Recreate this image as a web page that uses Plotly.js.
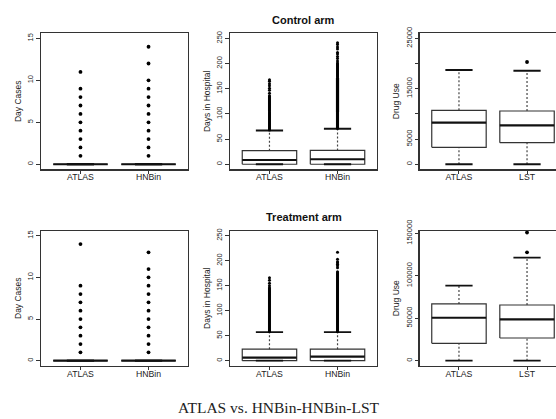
<!DOCTYPE html>
<html><head><meta charset="utf-8">
<script src="https://cdn.plot.ly/plotly-3.0.1.min.js"></script>
<style>html,body{margin:0;padding:0;overflow:hidden;background:#fff;width:556px;height:419px}#chart{width:600px;height:419px}</style>
</head><body><div id="chart"></div>
<script>
// ---------- DATA ----------
const hnbinGroups = ["ATLAS", "HNBin"];
const drugGroups = ["ATLAS", "LST"];

const rowTitles = ["Control arm", "Treatment arm"];
const yTitles = ["Day Cases", "Days in Hospital", "Drug Use"];
const caption = "ATLAS vs. HNBin-HNBin-LST";

// box stats per group: [lower whisker, Q1, median, Q3, upper whisker]
const ctrlDayStats = [[0, 0, 0, 0, 0], [0, 0, 0, 0, 0]];
const ctrlDayOut = [[1, 2, 3, 4, 5, 6, 7, 8, 9, 11], [1, 2, 3, 4, 5, 6, 7, 8, 9, 10, 12, 14]];

const ctrlHospStats = [[0, 0, 8.5, 27, 67], [0, 0, 10, 27.5, 70.5]];
const ctrlHospOut = [
  [68, 70, 72, 74, 76, 78, 80, 82, 84, 86, 88, 90, 92, 94, 96, 98, 100, 102, 104, 106, 108, 110, 112, 114, 116, 118, 120, 122, 124, 126, 128, 130, 132, 134, 136, 141, 147, 151, 156, 160, 165, 168],
  [71, 73, 75, 77, 79, 81, 83, 85, 87, 89, 91, 93, 95, 97, 99, 101, 103, 105, 107, 109, 111, 113, 115, 117, 119, 121, 123, 125, 127, 129, 131, 133, 135, 137, 139, 141, 143, 145, 147, 149, 151, 153, 155, 157, 159, 161, 163, 165, 167, 169, 171, 173, 175, 177, 179, 181, 183, 185, 187, 189, 191, 193, 195, 197, 199, 201, 205, 210, 214, 219, 222, 229, 233, 238, 241]
];

const ctrlDrugStats = [[0, 3370, 8250, 10710, 18710], [0, 4290, 7740, 10570, 18570]];
const ctrlDrugOut = [[], [20300]];

const trtDayStats = [[0, 0, 0, 0, 0], [0, 0, 0, 0, 0]];
const trtDayOut = [[1, 2, 3, 4, 5, 6, 7, 8, 9, 14], [1, 2, 3, 4, 5, 6, 7, 8, 9, 10, 11, 13]];

const trtHospStats = [[0, 0, 6, 23, 57], [0, 0, 8, 23, 57]];
const trtHospOut = [
  [58, 60, 62, 64, 66, 68, 70, 72, 74, 76, 78, 80, 82, 84, 86, 88, 90, 92, 94, 96, 98, 100, 102, 104, 106, 108, 110, 112, 114, 116, 118, 120, 122, 124, 126, 128, 130, 132, 134, 136, 138, 140, 142, 144, 146, 150, 155, 161, 166],
  [58, 60, 62, 64, 66, 68, 70, 72, 74, 76, 78, 80, 82, 84, 86, 88, 90, 92, 94, 96, 98, 100, 102, 104, 106, 108, 110, 112, 114, 116, 118, 120, 122, 124, 126, 128, 130, 132, 134, 136, 138, 140, 142, 144, 146, 148, 150, 152, 154, 156, 158, 160, 162, 164, 166, 168, 170, 172, 174, 176, 178, 186, 190, 193, 196, 198, 203, 217]
];

const trtDrugStats = [[0, 20500, 50600, 66800, 88300], [0, 26700, 48700, 65600, 121300]];
const trtDrugOut = [[], [127600, 151000]];

const dayTicks = [0, 5, 10, 15];
const dayTickText = ["0", "5", "10", "15"];
const hospTicks = [0, 50, 100, 150, 200, 250];
const hospTickText = ["0", "50", "100", "150", "200", "250"];
const ctrlDrugTicks = [0, 5000, 10000, 15000, 20000, 25000];
const ctrlDrugTickText = ["0", "5000", "", "15000", "", "25000"];
const trtDrugTicks = [0, 50000, 100000, 150000];
const trtDrugTickText = ["0", "50000", "100000", "150000"];

// ---------- DRAWING ----------
const W = 600, H = 419;
const INK = '#333';
const FONT = 'Liberation Sans, Arial, Helvetica, sans-serif';
const BW = 0.4, SW = 0.2;

function boxTraces(stats, outs, xa, ya, msize) {
  const wx = [], wy = [], bx = [], by = [], mx = [], my = [], sx = [], sy = [], ox = [], oy = [];
  stats.forEach((s, i) => {
    const p = i + 1;
    const [lo, q1, med, q3, hi] = s;
    wx.push(p, p, null, p, p, null); wy.push(lo, q1, null, q3, hi, null);
    bx.push(p - BW, p + BW, p + BW, p - BW, p - BW, null); by.push(q1, q1, q3, q3, q1, null);
    mx.push(p - BW, p + BW, null); my.push(med, med, null);
    sx.push(p - SW, p + SW, null, p - SW, p + SW, null); sy.push(lo, lo, null, hi, hi, null);
    outs[i].forEach(v => { ox.push(p); oy.push(v); });
  });
  const base = {type: 'scatter', xaxis: xa, yaxis: ya, showlegend: false, hoverinfo: 'skip'};
  return [
    Object.assign({}, base, {x: wx, y: wy, mode: 'lines', line: {color: '#444', width: 1.2, dash: '2px,2px'}}),
    Object.assign({}, base, {x: bx, y: by, mode: 'lines', line: {color: INK, width: 1.2}}),
    Object.assign({}, base, {x: sx, y: sy, mode: 'lines', line: {color: '#111', width: 1.8}}),
    Object.assign({}, base, {x: mx, y: my, mode: 'lines', line: {color: '#111', width: 2.2}}),
    Object.assign({}, base, {x: ox, y: oy, mode: 'markers', marker: {color: '#000', size: msize, line: {width: 0}}})
  ];
}

const panels = [
  {stats: ctrlDayStats, outs: ctrlDayOut, groups: hnbinGroups, ticks: dayTicks, tt: dayTickText, range: [-0.6, 15.6], title: yTitles[0], col: 0, row: 0, ms: 3.8},
  {stats: ctrlHospStats, outs: ctrlHospOut, groups: hnbinGroups, ticks: hospTicks, tt: hospTickText, range: [-10, 260], title: yTitles[1], col: 1, row: 0, ms: 3},
  {stats: ctrlDrugStats, outs: ctrlDrugOut, groups: drugGroups, ticks: ctrlDrugTicks, tt: ctrlDrugTickText, range: [-1000, 26000], title: yTitles[2], col: 2, row: 0, ms: 3.8},
  {stats: trtDayStats, outs: trtDayOut, groups: hnbinGroups, ticks: dayTicks, tt: dayTickText, range: [-0.6, 15.6], title: yTitles[0], col: 0, row: 1, ms: 3.8},
  {stats: trtHospStats, outs: trtHospOut, groups: hnbinGroups, ticks: hospTicks, tt: hospTickText, range: [-10, 260], title: yTitles[1], col: 1, row: 1, ms: 3},
  {stats: trtDrugStats, outs: trtDrugOut, groups: drugGroups, ticks: trtDrugTicks, tt: trtDrugTickText, range: [-5900, 153100], title: yTitles[2], col: 2, row: 1, ms: 3.8}
];

const colPx = [[41, 188], [230, 377], [419.5, 566.5]];
const rowPx = [[33.3, 169.3], [230.7, 365.7]];

const data = [];
const layout = {
  width: W, height: H,
  margin: {l: 0, r: 0, t: 0, b: 0},
  paper_bgcolor: '#fff', plot_bgcolor: '#fff',
  showlegend: false, hovermode: false,
  font: {family: FONT, size: 9, color: INK},
  annotations: []
};

panels.forEach((pn, k) => {
  const n = k + 1;
  const xa = 'x' + (n === 1 ? '' : n), ya = 'y' + (n === 1 ? '' : n);
  data.push(...boxTraces(pn.stats, pn.outs, xa, ya, pn.ms));
  const cx = colPx[pn.col], ry = rowPx[pn.row];
  const common = {
    showline: true, mirror: true, linecolor: INK, linewidth: 1.2,
    ticks: 'outside', ticklen: 3.5, tickwidth: 1, tickcolor: INK,
    showgrid: false, zeroline: false, fixedrange: true
  };
  layout['xaxis' + (n === 1 ? '' : n)] = Object.assign({}, common, {
    domain: [cx[0] / W, cx[1] / W], range: [0.42, 2.58],
    tickmode: 'array', tickvals: [1, 2], ticktext: pn.groups,
    tickfont: {family: FONT, size: 8.7, color: '#222'},
    ticklabelstandoff: -4,
    anchor: ya
  });
  layout['yaxis' + (n === 1 ? '' : n)] = Object.assign({}, common, {
    domain: [1 - ry[1] / H, 1 - ry[0] / H], range: pn.range,
    tickmode: 'array', tickvals: pn.ticks, ticktext: pn.tt, tickangle: -90,
    tickfont: {family: FONT, size: 7.5, color: '#222'},
    anchor: xa,
    title: {text: pn.title, font: {family: FONT, size: 8.5, color: '#222'}, standoff: 3}
  });
});

// row titles centred above the middle panels
[20, 217].forEach((py, r) => {
  layout.annotations.push({
    text: '<b>' + rowTitles[r] + '</b>', xref: 'paper', yref: 'paper',
    x: (colPx[1][0] + colPx[1][1]) / 2 / W, y: 1 - py / H,
    xanchor: 'center', yanchor: 'middle', showarrow: false,
    font: {family: FONT, size: 11, color: '#111'}
  });
});

layout.annotations.push({
  text: caption, xref: 'paper', yref: 'paper',
  x: 279 / W, y: 1 - 407.5 / H, xanchor: 'center', yanchor: 'middle', showarrow: false,
  font: {family: 'Liberation Serif, Times New Roman, serif', size: 15.5, color: '#222'}
});

Plotly.newPlot('chart', data, layout, {staticPlot: true, displayModeBar: false});
</script></body></html>
